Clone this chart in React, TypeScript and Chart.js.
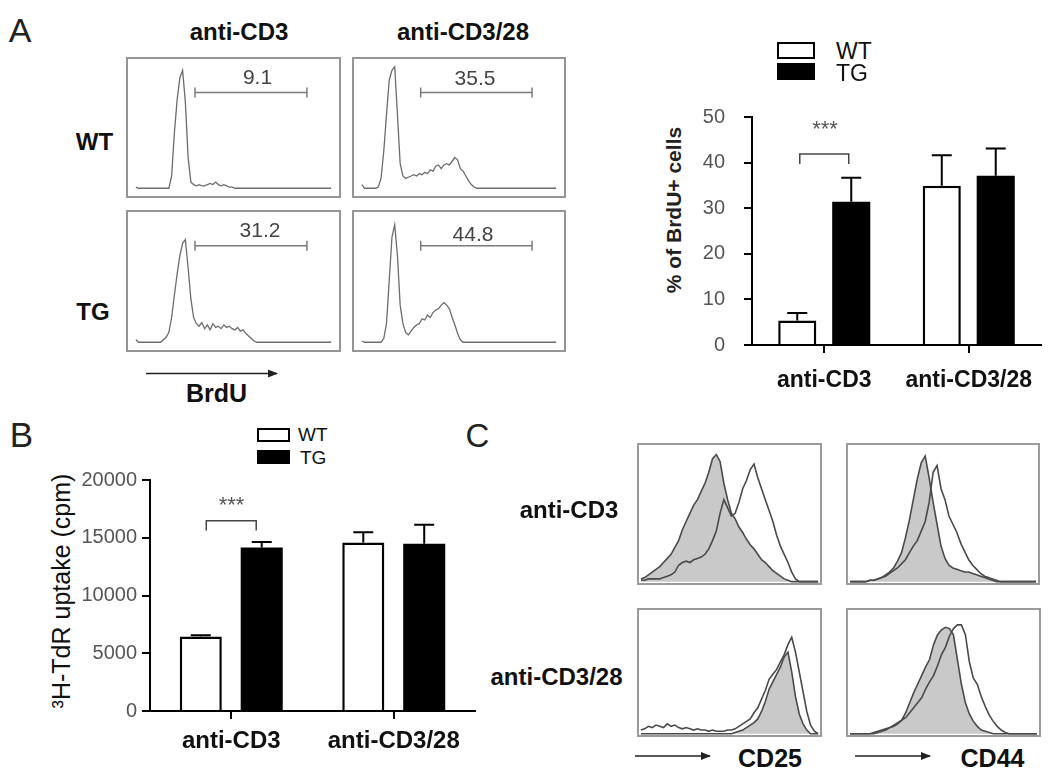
import React, { useEffect, useRef } from 'react';
import { Chart, registerables } from 'chart.js';

Chart.register(...registerables);

const FONT = "'Liberation Sans', Arial, Helvetica, sans-serif";
Chart.defaults.font.family = FONT;

// ---------------- Data ----------------
const stimuli = ['anti-CD3', 'anti-CD3/28'];
const groupNames = ['WT', 'TG'];

// Panel A (right): % of BrdU+ cells
const brduTicks = [0, 10, 20, 30, 40, 50];
const brduWT = [5.4, 34.9];
const brduWTUpper = [7.0, 41.6];
const brduTG = [31.4, 37.1];
const brduTGUpper = [36.7, 43.1];
const brduSig = [41.9, 2.2]; // bracket level, leg drop

// Panel B: 3H-TdR uptake (cpm)
const cpmTicks = [0, 5000, 10000, 15000, 20000];
const cpmWT = [6440, 14580];
const cpmWTUpper = [6560, 15480];
const cpmTG = [14150, 14490];
const cpmTGUpper = [14640, 16130];
const cpmSig = [16470, 850];

// Panel A (left): BrdU histograms, 72 channel bins, % of max
const brduGate = [22, 62.7, 78]; // from bin, to bin, height
const brduGateLabels = ['9.1', '35.5', '31.2', '44.8'];
const histWTcd3 = [
  1, 0, 0, 0, 0, 0, 0, 0, 0, 0, 0, 0, 0, 10, 45, 72, 90, 96, 70, 25, 5,
  3, 2, 3, 2, 2, 3, 4, 3, 5, 3, 2, 3, 2, 1, 1,
  0, 0, 0, 0, 0, 0, 0, 0, 0, 0, 0, 0, 0, 0, 0, 0, 0, 0, 0, 0, 0, 0, 0, 0, 0, 0, 0, 0, 0, 0, 0, 0, 0, 0, 0, 0,
];
const histWTcd328 = [
  3, 0, 0, 0, 0, 0, 1, 8, 30, 60, 88, 96, 99, 60, 20, 10, 8, 9, 10, 11, 10, 12, 11, 13, 12, 15, 14, 18, 19, 16,
  19, 20, 19, 22, 25, 23, 16, 14, 10, 6, 3, 1,
  0, 0, 0, 0, 0, 0, 0, 0, 0, 0, 0, 0, 0, 0, 0, 0, 0, 0, 0, 0, 0, 0, 0, 0, 0, 0, 0, 0, 0, 0,
];
const histTGcd3 = [
  2, 0, 0, 0, 0, 0, 0, 0, 0, 0, 2, 4, 8, 20, 38, 55, 70, 80, 83, 60, 35, 20, 15, 13, 16, 11, 14, 10, 15, 12,
  13, 11, 14, 12, 13, 11, 10, 12, 9, 10, 7, 5, 3, 1,
  0, 0, 0, 0, 0, 0, 0, 0, 0, 0, 0, 0, 0, 0, 0, 0, 0, 0, 0, 0, 0, 0, 0, 0, 0, 0, 0, 0,
];
const histTGcd328 = [
  1, 0, 0, 0, 0, 0, 0, 0, 3, 15, 50, 85, 95, 70, 30, 15, 8, 6, 9, 12, 14, 15, 19, 18, 22, 20, 24, 26, 27, 30,
  32, 30, 27, 20, 14, 7, 2,
  0, 0, 0, 0, 0, 0, 0, 0, 0, 0, 0, 0, 0, 0, 0, 0, 0, 0, 0, 0, 0, 0, 0, 0, 0, 0, 0, 0, 0, 0, 0, 0, 0, 0, 0,
];

// Panel C: CD25 / CD44 overlays, 48 bins (filled = shaded, open = outline)
const cd25Cd3Filled = [
  2, 3, 5, 7, 9, 11, 14, 17, 20, 25, 30, 38, 44, 50, 56, 60, 66, 72, 80, 90, 93, 88, 72, 60, 50, 46, 40, 36, 31, 27,
  24, 20, 16, 14, 11, 8, 6, 4, 2, 1, 0, 0, 0, 0, 0, 0, 0, 0,
];
const cd25Cd3Open = [
  1, 1, 2, 2, 2, 2, 3, 4, 5, 7, 12, 14, 15, 14, 16, 17, 18, 20, 24, 30, 37, 50, 60, 54, 48, 50, 58, 68, 74, 82,
  86, 76, 68, 60, 52, 44, 34, 26, 20, 14, 7, 2, 0, 0, 0, 0, 0, 0,
];
const cd44Cd3Filled = [
  0, 0, 0, 0, 0, 1, 1, 2, 3, 5, 7, 10, 15, 21, 32, 45, 60, 75, 87, 92, 76, 58, 42, 26, 17, 12, 10, 9, 8, 7,
  7, 6, 5, 4, 3, 2, 1, 0, 0, 0, 0, 0, 0, 0, 0, 0, 0, 0,
];
const cd44Cd3Open = [
  0, 0, 0, 0, 0, 1, 1, 2, 3, 4, 6, 8, 10, 13, 16, 21, 26, 30, 37, 44, 58, 80, 85, 68, 60, 48, 42, 36, 28, 22,
  16, 12, 9, 6, 4, 3, 2, 1, 0, 0, 0, 0, 0, 0, 0, 0, 0, 0,
];
const cd25Cd328Filled = [
  0, 0, 0, 0, 0, 0, 0, 0, 0, 0, 0, 0, 0, 0, 0, 0, 0, 0, 0, 0, 0, 0, 0, 0, 0, 1, 2, 3, 5, 7,
  9, 12, 18, 26, 36, 42, 48, 54, 62, 66, 50, 30, 16, 8, 3, 0, 0, 0,
];
const cd25Cd328Open = [
  3, 4, 6, 5, 7, 6, 5, 8, 6, 7, 5, 4, 5, 4, 3, 4, 3, 3, 2, 3, 2, 2, 2, 3, 3, 4, 6, 8, 10, 12,
  17, 21, 28, 35, 44, 48, 52, 58, 64, 72, 78, 66, 50, 34, 18, 7, 2, 0,
];
const cd44Cd328Filled = [
  0, 0, 0, 0, 0, 0, 1, 2, 3, 4, 5, 6, 8, 11, 17, 25, 33, 40, 47, 54, 60, 72, 80, 84, 86, 85, 80, 60, 40, 25,
  16, 10, 6, 3, 2, 1, 0, 0, 0, 0, 0, 0, 0, 0, 0, 0, 0, 0,
];
const cd44Cd328Open = [
  0, 0, 0, 0, 0, 0, 0, 1, 2, 3, 5, 7, 9, 11, 13, 17, 21, 25, 29, 36, 42, 47, 55, 64, 70, 79, 85, 88, 88, 80,
  58, 45, 40, 30, 22, 15, 10, 6, 3, 1, 0, 0, 0, 0, 0, 0, 0, 0,
];

// ---------------- Components ----------------
type Curve = { counts: number[]; color: string; width: number; fill?: string };

function Histogram(props: { box: number[]; bins: number; curves: Curve[]; gate?: number[]; border: string }) {
  const ref = useRef<HTMLCanvasElement>(null);
  const [l, t, w, h] = props.box;
  useEffect(() => {
    const datasets: any[] = props.curves.map((c) => ({
      data: c.counts.map((v, i) => ({ x: i + 0.5, y: v })),
      borderColor: c.color,
      borderWidth: c.width,
      backgroundColor: c.fill ?? 'rgba(0,0,0,0)',
      fill: c.fill ? 'origin' : false,
      pointRadius: 0,
      tension: 0,
    }));
    if (props.gate) {
      const g = props.gate;
      datasets.push({
        data: [
          { x: g[0], y: g[2] },
          { x: g[1], y: g[2] },
        ],
        borderColor: '#7a7a7a',
        borderWidth: 1.5,
        pointStyle: 'line',
        pointRotation: 90,
        pointRadius: 5,
        pointBorderColor: '#7a7a7a',
        pointBorderWidth: 1.5,
        fill: false,
      });
    }
    const chart = new Chart(ref.current as HTMLCanvasElement, {
      type: 'line',
      data: { datasets },
      options: {
        animation: false,
        responsive: false,
        maintainAspectRatio: false,
        layout: { padding: 0 },
        events: [],
        plugins: { legend: { display: false }, tooltip: { enabled: false } },
        scales: {
          x: { type: 'linear', min: 0, max: props.bins, display: false },
          y: { min: -1, max: 100, display: false },
        },
      },
    });
    return () => chart.destroy();
  }, []);
  return (
    <div
      style={{
        position: 'absolute',
        left: l,
        top: t,
        width: w,
        height: h,
        border: `2px solid ${props.border}`,
        boxSizing: 'border-box',
      }}
    >
      <canvas ref={ref} width={w - 4} height={h - 4} style={{ display: 'block' }} />
    </div>
  );
}

function BarPanel(props: {
  box: number[];
  axisW: number;
  axisH: number;
  padTop: number;
  padRight: number;
  ticks: number[];
  wt: number[];
  tg: number[];
  wtUpper: number[];
  tgUpper: number[];
  sig: number[];
  sigInset: number;
  catPct: number;
  barPct: number;
  xFont: number;
  xPad: number;
  yFont: number;
  yPad: number;
}) {
  const ref = useRef<HTMLCanvasElement>(null);
  const [l, t, w, h] = props.box;
  useEffect(() => {
    const uppers = [props.wtUpper, props.tgUpper];
    const errPlugin = {
      id: 'errorBars',
      afterDatasetsDraw(chart: any) {
        const ctx = chart.ctx;
        const ys = chart.scales.y;
        ctx.save();
        ctx.strokeStyle = '#000';
        ctx.lineWidth = 2;
        uppers.forEach((arr, d) => {
          chart.getDatasetMeta(d).data.forEach((bar: any, i: number) => {
            const yt = ys.getPixelForValue(arr[i]);
            ctx.beginPath();
            ctx.moveTo(bar.x, bar.y);
            ctx.lineTo(bar.x, yt);
            ctx.moveTo(bar.x - 10, yt);
            ctx.lineTo(bar.x + 10, yt);
            ctx.stroke();
          });
        });
        // significance bracket between WT and TG of first stimulus
        const a = chart.getDatasetMeta(0).data[0];
        const b = chart.getDatasetMeta(1).data[0];
        const yl = ys.getPixelForValue(props.sig[0]);
        const yd = ys.getPixelForValue(props.sig[0] - props.sig[1]);
        ctx.strokeStyle = '#444';
        ctx.lineWidth = 1.5;
        ctx.beginPath();
        ctx.moveTo(a.x + props.sigInset, yd);
        ctx.lineTo(a.x + props.sigInset, yl);
        ctx.lineTo(b.x - props.sigInset, yl);
        ctx.lineTo(b.x - props.sigInset, yd);
        ctx.stroke();
        ctx.restore();
      },
    };
    const tk = props.ticks;
    const chart = new Chart(ref.current as HTMLCanvasElement, {
      type: 'bar',
      data: {
        labels: stimuli,
        datasets: [
          {
            label: groupNames[0],
            data: props.wt,
            backgroundColor: '#fff',
            borderColor: '#000',
            borderWidth: 2.5,
            borderSkipped: 'bottom',
            categoryPercentage: props.catPct,
            barPercentage: props.barPct,
          },
          {
            label: groupNames[1],
            data: props.tg,
            backgroundColor: '#000',
            borderColor: '#000',
            borderWidth: 0,
            categoryPercentage: props.catPct,
            barPercentage: props.barPct,
          },
        ],
      },
      options: {
        animation: false,
        responsive: false,
        maintainAspectRatio: false,
        events: [],
        layout: { padding: { top: props.padTop, right: props.padRight, left: 0, bottom: 0 } },
        plugins: { legend: { display: false }, tooltip: { enabled: false } },
        scales: {
          x: {
            grid: { offset: false, drawOnChartArea: false, drawTicks: true, tickLength: 8, color: '#000', lineWidth: 2 },
            border: { display: true, color: '#000', width: 2 },
            ticks: { font: { size: props.xFont, weight: 'bold' }, color: '#111', padding: props.xPad },
            afterFit: (s: any) => {
              s.height = props.axisH;
            },
          },
          y: {
            min: tk[0],
            max: tk[tk.length - 1],
            ticks: {
              stepSize: tk[1] - tk[0],
              font: { size: props.yFont },
              color: '#555',
              padding: props.yPad,
              callback: (v: any) => String(v),
            },
            grid: { drawOnChartArea: false, drawTicks: true, tickLength: 8, color: '#000', lineWidth: 2 },
            border: { display: true, color: '#000', width: 2 },
            afterFit: (s: any) => {
              s.width = props.axisW;
            },
          },
        },
      } as any,
      plugins: [errPlugin],
    });
    return () => chart.destroy();
  }, []);
  return (
    <canvas
      ref={ref}
      width={w}
      height={h}
      style={{ position: 'absolute', left: l, top: t, display: 'block' }}
    />
  );
}

function Txt(props: {
  x: number;
  y: number;
  size: number;
  bold?: boolean;
  color?: string;
  anchor?: 'center' | 'left';
  rotate?: boolean;
  children: React.ReactNode;
}) {
  const tr = props.rotate
    ? 'translate(-50%,-50%) rotate(-90deg)'
    : props.anchor === 'left'
    ? 'translateY(-50%)'
    : 'translate(-50%,-50%)';
  return (
    <div
      style={{
        position: 'absolute',
        left: props.x,
        top: props.y,
        transform: tr,
        fontSize: props.size,
        fontWeight: props.bold ? 'bold' : 'normal',
        color: props.color ?? '#111',
        lineHeight: 1,
        whiteSpace: 'nowrap',
      }}
    >
      {props.children}
    </div>
  );
}

function Swatch(props: { x: number; y: number; w: number; h: number; filled: boolean }) {
  return (
    <div
      style={{
        position: 'absolute',
        left: props.x,
        top: props.y,
        width: props.w,
        height: props.h,
        boxSizing: 'border-box',
        border: '2.5px solid #000',
        background: props.filled ? '#000' : '#fff',
      }}
    />
  );
}

const histA = (c: number[]): Curve[] => [{ counts: c, color: '#6c6c6c', width: 1.3 }];
const histC = (filled: number[], open: number[]): Curve[] => [
  { counts: open, color: '#4a4a4a', width: 1.6 },
  { counts: filled, color: '#4a4a4a', width: 1.6, fill: '#c9c9c9' },
];

export default function App() {
  return (
    <div
      style={{
        position: 'fixed',
        left: 0,
        top: 0,
        width: 1050,
        height: 775,
        background: '#fff',
        fontFamily: FONT,
        color: '#111',
        overflow: 'hidden',
      }}
    >
      {/* Panel A histograms */}
      <Txt x={20} y={29.5} size={34} color="#222">A</Txt>
      <Txt x={239} y={32} size={24} bold>anti-CD3</Txt>
      <Txt x={463} y={32} size={24} bold>anti-CD3/28</Txt>
      <Txt x={94.5} y={141.5} size={24} bold>WT</Txt>
      <Txt x={93} y={312} size={24} bold>TG</Txt>
      <Histogram box={[126, 57, 215, 141]} bins={72} curves={histA(histWTcd3)} gate={brduGate} border="#959595" />
      <Histogram box={[352, 57, 214, 141]} bins={72} curves={histA(histWTcd328)} gate={brduGate} border="#959595" />
      <Histogram box={[126, 210, 215, 142]} bins={72} curves={histA(histTGcd3)} gate={brduGate} border="#959595" />
      <Histogram box={[352, 210, 214, 142]} bins={72} curves={histA(histTGcd328)} gate={brduGate} border="#959595" />
      <Txt x={257.5} y={76} size={21} color="#444">{brduGateLabels[0]}</Txt>
      <Txt x={475} y={77} size={21} color="#444">{brduGateLabels[1]}</Txt>
      <Txt x={260} y={228.5} size={21} color="#444">{brduGateLabels[2]}</Txt>
      <Txt x={473} y={232.5} size={21} color="#444">{brduGateLabels[3]}</Txt>
      <Txt x={216.5} y={392.5} size={25} bold>BrdU</Txt>

      {/* Panel A bar chart */}
      <Swatch x={777} y={42} w={38} h={17} filled={false} />
      <Swatch x={777} y={63} w={38} h={17} filled={true} />
      <Txt x={836} y={50.5} size={23} anchor="left">{groupNames[0]}</Txt>
      <Txt x={836} y={72.5} size={23} anchor="left">{groupNames[1]}</Txt>
      <Txt x={672.5} y={210} size={21} bold rotate color="#222">% of BrdU+ cells</Txt>
      <BarPanel
        box={[655, 86, 395, 314]}
        axisW={97}
        axisH={55}
        padTop={12}
        padRight={9}
        ticks={brduTicks}
        wt={brduWT}
        tg={brduTG}
        wtUpper={brduWTUpper}
        tgUpper={brduTGUpper}
        sig={brduSig}
        sigInset={2.5}
        catPct={0.747}
        barPct={0.706}
        xFont={23}
        xPad={14}
        yFont={20}
        yPad={19}
      />
      <Txt x={825} y={129} size={22} color="#555">***</Txt>

      {/* Panel B */}
      <Txt x={21.5} y={433.5} size={35} color="#222">B</Txt>
      <Swatch x={257} y={428} w={33} h={14} filled={false} />
      <Swatch x={257} y={450} w={33} h={14} filled={true} />
      <Txt x={298} y={434} size={19} anchor="left">{groupNames[0]}</Txt>
      <Txt x={300} y={457} size={19} anchor="left">{groupNames[1]}</Txt>
      <Txt x={61} y={591} size={25} rotate>³H-TdR uptake (cpm)</Txt>
      <BarPanel
        box={[40, 463, 445, 302]}
        axisW={110}
        axisH={54}
        padTop={12}
        padRight={10}
        ticks={cpmTicks}
        wt={cpmWT}
        tg={cpmTG}
        wtUpper={cpmWTUpper}
        tgUpper={cpmTGUpper}
        sig={cpmSig}
        sigInset={5.5}
        catPct={0.75}
        barPct={0.69}
        xFont={24}
        xPad={8}
        yFont={20}
        yPad={5}
      />
      <Txt x={231.5} y={505} size={22} color="#555">***</Txt>

      {/* Panel C */}
      <Txt x={477.5} y={435} size={33} color="#222">C</Txt>
      <Txt x={569} y={510} size={24} bold>anti-CD3</Txt>
      <Txt x={556.5} y={677} size={24} bold>anti-CD3/28</Txt>
      <Histogram box={[637, 443, 185, 142]} bins={48} curves={histC(cd25Cd3Filled, cd25Cd3Open)} border="#9a9a9a" />
      <Histogram box={[846, 443, 194, 142]} bins={48} curves={histC(cd44Cd3Filled, cd44Cd3Open)} border="#9a9a9a" />
      <Histogram box={[637, 608, 185, 129]} bins={48} curves={histC(cd25Cd328Filled, cd25Cd328Open)} border="#9a9a9a" />
      <Histogram box={[846, 608, 195, 129]} bins={48} curves={histC(cd44Cd328Filled, cd44Cd328Open)} border="#9a9a9a" />
      <Txt x={770} y={757.5} size={25} bold>CD25</Txt>
      <Txt x={992.5} y={757.5} size={25} bold>CD44</Txt>

      <svg width={1050} height={775} style={{ position: 'absolute', left: 0, top: 0, pointerEvents: 'none' }}>
        <defs>
          <marker id="ah" markerWidth="10" markerHeight="8" refX="9" refY="4" orient="auto" markerUnits="userSpaceOnUse">
            <path d="M0,0 L10,4 L0,8 z" fill="#222" />
          </marker>
        </defs>
        <line x1={146} y1={373.5} x2={277} y2={373.5} stroke="#222" strokeWidth={1.6} markerEnd="url(#ah)" />
        <line x1={635} y1={756} x2={710} y2={756} stroke="#222" strokeWidth={1.6} markerEnd="url(#ah)" />
        <line x1={855} y1={756} x2={930} y2={756} stroke="#222" strokeWidth={1.6} markerEnd="url(#ah)" />
      </svg>
    </div>
  );
}
